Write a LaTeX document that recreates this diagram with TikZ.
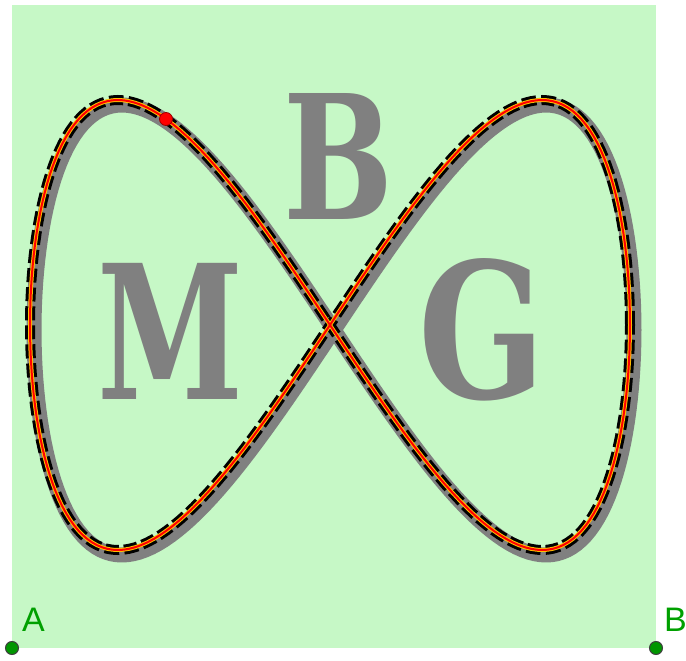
\documentclass[tikz,border=0pt]{standalone}
\usepackage{fontspec}
\usepackage{graphicx}
\newfontfamily\slabfont{DejaVu Serif}
\newfontfamily\labelfont{Liberation Sans}
\definecolor{bgGreen}{RGB}{198,248,198}
\definecolor{ptGreen}{RGB}{0,150,0}
\definecolor{lblGreen}{RGB}{0,160,0}
\definecolor{letterGray}{RGB}{128,128,128}
\definecolor{curveOrange}{RGB}{255,190,0}
\tikzset{
  ptdot/.style={circle, fill=ptGreen, draw=black!75, line width=1pt, minimum size=13pt, inner sep=0pt},
  ptlabel/.style={text=lblGreen, font=\labelfont\fontsize{34}{34}\selectfont, inner sep=0pt},
  bigletter/.style={text=letterGray, inner sep=0pt, anchor=north west},
}
\begin{document}
\begin{tikzpicture}[x=1pt,y=-1pt]
\useasboundingbox (0,0) rectangle (686,661);
% background
\fill[bgGreen] (12,5) rectangle (656,648);
% letters
\node[bigletter] (M) at (97,263) {\resizebox{146pt}{136pt}{\slabfont\bfseries M}};
\node[bigletter] (Bl) at (283,93) {\resizebox{110pt}{126pt}{\slabfont\bfseries B}};
\node[bigletter] (G) at (418,258) {\resizebox{127pt}{140pt}{\slabfont\bfseries G}};
% gray shadow curve
\draw[letterGray, line width=15pt, line join=round]
  plot[domain=0:360, samples=241, variable=\t] ({334+300*cos(\t)}, {330-225*sin(2*\t)}) -- cycle;
% dashed black curve
\draw[black, line width=10pt, dash pattern=on 14pt off 5pt]
  plot[domain=0:360, samples=241, variable=\t] ({330+300*cos(\t)}, {325-225*sin(2*\t)}) -- cycle;
% orange curve
\draw[curveOrange, line width=4pt, line join=round]
  plot[domain=0:360, samples=241, variable=\t] ({330+300*cos(\t)}, {325-225*sin(2*\t)}) -- cycle;
% red curve
\draw[red, line width=2pt, line join=round]
  plot[domain=0:360, samples=241, variable=\t] ({330+300*cos(\t)}, {325-225*sin(2*\t)}) -- cycle;
% red point on the curve
\node[circle, fill=red, draw=red!60!black, line width=0.8pt, minimum size=13pt, inner sep=0pt] (P) at (166,119) {};
% points A and B
\node[ptdot] (A) at (12,648) {};
\node[ptdot] (B) at (656,648) {};
\node[ptlabel, anchor=south west] (Alab) at (22,632) {A};
\node[ptlabel, anchor=south west] (Blab) at (664,632) {B};
\end{tikzpicture}
\end{document}
